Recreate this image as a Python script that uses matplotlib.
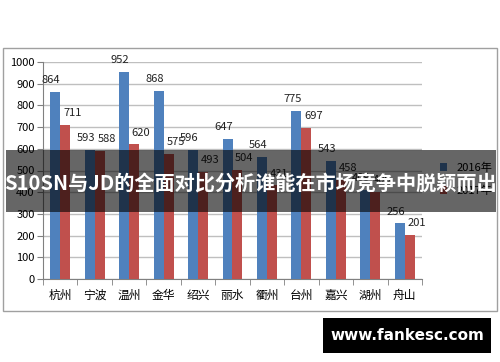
import matplotlib
matplotlib.use('Agg')
import matplotlib.pyplot as plt
import numpy as np
from matplotlib.patches import Rectangle

plt.rcParams['font.family'] = ['Noto Sans CJK SC', 'DejaVu Sans']

# data
cities = ['杭州', '宁波', '温州', '金华', '绍兴', '丽水', '衢州', '台州', '嘉兴', '湖州', '舟山']
v2016 = [864, 593, 952, 868, 596, 647, 564, 775, 543, 409, 256]
v2017 = [711, 588, 620, 575, 493, 504, 431, 697, 458, 400, 201]
series_names = ['2016年', '2017年']
title_text = 'S10SN与JD的全面对比分析谁能在市场竞争中脱颖而出'
watermark = 'www.fankesc.com'

blue = '#4f81bd'
red = '#c0504d'

fig = plt.figure(figsize=(5, 3.62), dpi=100)

# outer chart frame
fig.patches.append(Rectangle((3 / 500, 1 - 311 / 362), 494 / 500, 263 / 362,
                             transform=fig.transFigure, fill=False,
                             edgecolor='#a0a0a0', linewidth=1))

ax = fig.add_axes([43 / 500, 1 - 279 / 362, 379 / 500, 217 / 362])
x = np.arange(len(cities))
w = 0.29
b1 = ax.bar(x - w / 2, v2016, w, color=blue, label=series_names[0], zorder=3)
b2 = ax.bar(x + w / 2, v2017, w, color=red, label=series_names[1], zorder=3)

for rect, v in zip(b1, v2016):
    ax.annotate(str(v), (rect.get_x() + rect.get_width() / 2, v),
                xytext=(-3, 5), textcoords='offset points', ha='center', va='bottom',
                fontsize=8, color='#222222', zorder=4)
for rect, v in zip(b2, v2017):
    ax.annotate(str(v), (rect.get_x() + rect.get_width() / 2, v),
                xytext=(5, 5), textcoords='offset points', ha='center', va='bottom',
                fontsize=8, color='#222222', zorder=4)

ax.set_xlim(-0.5, len(cities) - 0.5)
ax.set_ylim(0, 1000)
ax.set_yticks(range(0, 1001, 100))
ax.yaxis.grid(True, color='#bfbfbf', linewidth=1, zorder=0)
ax.set_xticks(x)
ax.set_xticklabels(cities, fontsize=8.5)
ax.set_xticks(np.arange(-0.5, len(cities), 1), minor=True)
ax.tick_params(axis='x', which='major', length=0, pad=7)
ax.tick_params(axis='x', which='minor', length=4, color='#808080')
ax.tick_params(axis='y', length=4, color='#808080', labelsize=8, pad=2)
for s in ['top', 'right']:
    ax.spines[s].set_visible(False)
ax.spines['left'].set_color('#808080')
ax.spines['bottom'].set_color('#808080')

ax.legend(loc='center left', bbox_to_anchor=(1.02, 0.46), frameon=False,
          fontsize=8, handlelength=0.7, handleheight=0.7, labelspacing=1.2)

# dark banner with the headline
fig.patches.append(Rectangle((6 / 500, 1 - 212 / 362), 490 / 500, 62 / 362,
                             transform=fig.transFigure, facecolor='black',
                             alpha=0.6, edgecolor='none', zorder=10))
fig.text(0.5, 1 - 183 / 362, title_text, ha='center', va='center', color='white',
         fontsize=14.5, fontweight='bold', zorder=11)

# watermark box
fig.patches.append(Rectangle((323 / 500, 1 - 353 / 362), 168 / 500, 35 / 362,
                             transform=fig.transFigure, facecolor='black',
                             edgecolor='none', zorder=10))
fig.text(407 / 500, 1 - 336 / 362, watermark, ha='center', va='center', color='white',
         fontsize=11, fontweight='bold', family=['DejaVu Sans'], zorder=11)

fig.savefig('out.png', dpi=100)
